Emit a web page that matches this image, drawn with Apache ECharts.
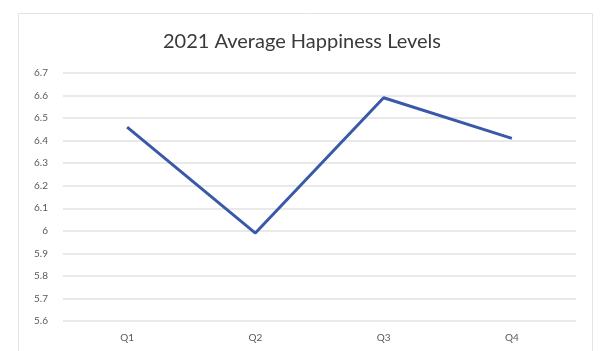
<!DOCTYPE html>
<html>
<head>
<meta charset="utf-8">
<script src="https://cdn.jsdelivr.net/npm/echarts@6/dist/echarts.min.js"></script>
<style>
  html, body { margin: 0; padding: 0; background: #ffffff; }
  #chart { width: 604px; height: 351px; }
</style>
</head>
<body>
<div id="chart"></div>
<script>
// quarters and the average happiness
const quarters = ["Q1", "Q2", "Q3", "Q4"];
const happiness = [6.46, 5.99, 6.59, 6.41];

const chart = echarts.init(document.getElementById("chart"));
const option = {
  backgroundColor: "#ffffff",
  animation: false,
  // light frame round the chart area
  graphic: [
    {
      type: "rect",
      shape: { x: 18.5, y: 13.5, width: 574, height: 400 },
      style: { fill: "none", stroke: "#e3e3e3", lineWidth: 1 },
      silent: true,
    },
  ],
  title: {
    text: "2021 Average Happiness Levels",
    left: "center",
    top: 27,
    textStyle: {
      fontFamily: "Lato",
      fontSize: 20,
      fontWeight: "normal",
      color: "#3a3a3a",
    },
  },
  grid: {
    left: 63,
    right: 28,
    top: 73,
    bottom: 30,
  },
  xAxis: {
    type: "category",
    data: quarters,
    boundaryGap: true,
    axisLine: { show: false },
    axisTick: { show: false },
    axisLabel: {
      color: "#595959",
      fontFamily: "Lato",
      fontSize: 10,
      margin: 12,
    },
  },
  yAxis: {
    type: "value",
    min: 5.6,
    max: 6.7,
    interval: 0.1,
    axisLine: { show: false },
    axisTick: { show: false },
    axisLabel: {
      color: "#595959",
      fontFamily: "Lato",
      fontSize: 10,
      margin: 15,
      formatter: (v) => String(Math.round(v * 10) / 10),
    },
    splitLine: { lineStyle: { color: "#e2e2e2", width: 1.5 } },
  },
  series: [
    {
      name: "Average Happiness",
      type: "line",
      data: happiness,
      symbol: "none",
      lineStyle: { color: "#3a5aa8", width: 3 },
    },
  ],
};
option && chart.setOption(option);
</script>
</body>
</html>
